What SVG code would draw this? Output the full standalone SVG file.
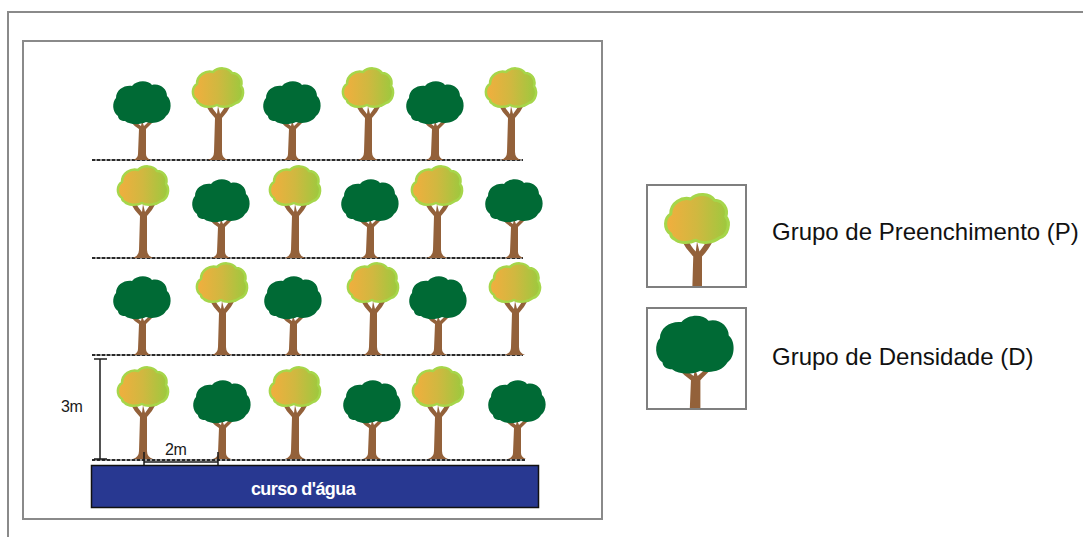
<svg xmlns="http://www.w3.org/2000/svg" xmlns:xlink="http://www.w3.org/1999/xlink" width="1083" height="537" viewBox="0 0 1083 537">
  <style>
    .frame { fill: #ffffff; stroke: #8a8a8a; stroke-width: 2; }
    .box { fill: #ffffff; stroke: #7f7f7f; stroke-width: 2; }
    .row { stroke: #2a2a2a; stroke-width: 2; stroke-dasharray: 3 2; fill: none; }
    .rowbase { stroke: #9a9a9a; stroke-width: 2; fill: none; }
    .dim { stroke: #1a1a1a; stroke-width: 1.5; fill: none; }
    .trunk { fill: #93613a; }
    .dark { fill: #006a35; }
    .light { fill: url(#ripe); stroke: #a6d64a; stroke-width: 2.5; stroke-linejoin: round; }
    .label { font-family: "Liberation Sans", Arial, sans-serif; font-size: 24px; fill: #111111; }
    .small { font-family: "Liberation Sans", Arial, sans-serif; font-size: 16px; fill: #1a1a1a; letter-spacing: -0.5px; }
    .water { font-family: "Liberation Sans", Arial, sans-serif; font-size: 18px; font-weight: bold; fill: #ffffff; letter-spacing: -0.6px; }
  </style>
  <defs>
    <linearGradient id="ripe" x1="0" y1="0" x2="1" y2="0">
      <stop offset="0" stop-color="#f2ae3e"/>
      <stop offset="0.5" stop-color="#d0b840"/>
      <stop offset="1" stop-color="#9cc93e"/>
    </linearGradient>
    <!-- density tree: trunk base at 0,0 -->
    <symbol id="treeD" overflow="visible">
      <path class="trunk" d="M -9,0 Q -4,-2 -4,-6 L -3,-31 Q -8,-34 -12,-39 L -8,-40 Q -4,-36 -1,-34 L 0,-39 L 2,-34 Q 5,-37 9,-40 L 12,-39 Q 7,-34 4,-31 L 4,-6 Q 4,-2 9,0 Z"/>
      <path class="dark" d="M -24,-44 C -30,-48 -30,-58 -26,-62 C -26,-70 -18,-75 -10,-74 C -5,-80 6,-80 10,-75 C 18,-77 25,-71 25,-64 C 30,-60 30,-48 24,-44 C 20,-37 10,-36 4,-38 C -2,-35 -12,-35 -17,-39 C -21,-39 -24,-41 -24,-44 Z"/>
    </symbol>
    <!-- filling tree: trunk base at 0,0 -->
    <symbol id="treeP" overflow="visible">
      <path class="trunk" d="M -10,0 Q -4,-2 -4,-8 L -3,-42 Q -9,-48 -13,-56 L -8,-57 Q -5,-50 -1,-46 L 0,-54 L 2,-46 Q 6,-51 9,-57 L 13,-55 Q 9,-47 4,-42 L 4,-8 Q 4,-2 10,0 Z"/>
      <path class="light" d="M -21,-60 C -27,-64 -26,-73 -21,-76 C -21,-85 -12,-90 -5,-88 C 0,-93 10,-93 14,-87 C 21,-87 25,-80 23,-74 C 27,-69 25,-59 18,-57 C 13,-53 4,-52 -1,-55 C -7,-52 -15,-53 -18,-56 C -20,-57 -21,-58 -21,-60 Z"/>
    </symbol>
    <clipPath id="clipP"><rect x="648" y="186" width="97" height="100"/></clipPath>
    <clipPath id="clipD"><rect x="648" y="309" width="97" height="99"/></clipPath>
  </defs>

  <!-- page frame -->
  <rect class="frame" x="8" y="12" width="1085" height="540"/>
  <!-- plot frame -->
  <rect class="frame" x="23" y="41" width="579" height="478"/>

  <!-- planting rows -->
  <g id="rows">
    <line class="rowbase" x1="92" y1="160" x2="523" y2="160"/>
    <line class="row" x1="92" y1="160" x2="523" y2="160"/>
    <line class="rowbase" x1="92" y1="258" x2="523" y2="258"/>
    <line class="row" x1="92" y1="258" x2="523" y2="258"/>
    <line class="rowbase" x1="92" y1="355" x2="523" y2="355"/>
    <line class="row" x1="92" y1="355" x2="523" y2="355"/>
    <line class="rowbase" x1="92" y1="460" x2="525" y2="460"/>
    <line class="row" x1="92" y1="460" x2="525" y2="460"/>
  </g>

  <!-- row 1 -->
  <g id="row1">
    <use xlink:href="#treeD" x="142" y="160"/>
    <use xlink:href="#treeP" x="218" y="160"/>
    <use xlink:href="#treeD" x="292" y="160"/>
    <use xlink:href="#treeP" x="368" y="160"/>
    <use xlink:href="#treeD" x="435" y="160"/>
    <use xlink:href="#treeP" x="511" y="160"/>
  </g>
  <!-- row 2 -->
  <g id="row2">
    <use xlink:href="#treeP" x="143" y="258"/>
    <use xlink:href="#treeD" x="221" y="258"/>
    <use xlink:href="#treeP" x="295" y="258"/>
    <use xlink:href="#treeD" x="370" y="258"/>
    <use xlink:href="#treeP" x="437" y="258"/>
    <use xlink:href="#treeD" x="514" y="258"/>
  </g>
  <!-- row 3 -->
  <g id="row3">
    <use xlink:href="#treeD" x="142" y="355"/>
    <use xlink:href="#treeP" x="222" y="355"/>
    <use xlink:href="#treeD" x="293" y="355"/>
    <use xlink:href="#treeP" x="373" y="355"/>
    <use xlink:href="#treeD" x="438" y="355"/>
    <use xlink:href="#treeP" x="515" y="355"/>
  </g>
  <!-- row 4 -->
  <g id="row4">
    <use xlink:href="#treeP" x="143" y="459"/>
    <use xlink:href="#treeD" x="222" y="459"/>
    <use xlink:href="#treeP" x="295" y="459"/>
    <use xlink:href="#treeD" x="372" y="459"/>
    <use xlink:href="#treeP" x="438" y="459"/>
    <use xlink:href="#treeD" x="517" y="459"/>
  </g>

  <!-- spacing dimensions -->
  <g id="dimensions">
    <line class="dim" x1="100" y1="359" x2="100" y2="459"/>
    <line class="dim" x1="94" y1="359" x2="107" y2="359"/>
    <line class="dim" x1="94" y1="459" x2="107" y2="459"/>
    <line class="dim" x1="144" y1="462" x2="218" y2="462"/>
    <line class="dim" x1="144" y1="452" x2="144" y2="465"/>
    <line class="dim" x1="218" y1="452" x2="218" y2="465"/>
    <text class="small" x="61" y="412">3m</text>
    <text class="small" x="165" y="455">2m</text>
  </g>

  <!-- watercourse -->
  <g id="water">
    <rect x="91.5" y="465.5" width="447" height="42" fill="#283891" stroke="#111111" stroke-width="1.5"/>
    <text class="water" x="303" y="495" text-anchor="middle">curso d'água</text>
  </g>

  <!-- legend -->
  <g id="legendP">
    <rect class="box" x="647" y="185" width="99" height="102"/>
    <g clip-path="url(#clipP)">
      <use xlink:href="#treeP" transform="translate(697,309) scale(1.25)"/>
    </g>
    <text class="label" x="772" y="240">Grupo de Preenchimento (P)</text>
  </g>
  <g id="legendD">
    <rect class="box" x="647" y="308" width="99" height="101"/>
    <g clip-path="url(#clipD)">
      <use xlink:href="#treeD" transform="translate(695,422) scale(1.35)"/>
    </g>
    <text class="label" x="772" y="365">Grupo de Densidade (D)</text>
  </g>
</svg>
